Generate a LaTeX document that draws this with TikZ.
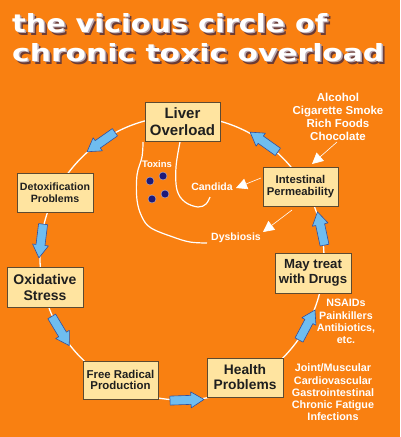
\documentclass[tikz,border=0pt]{standalone}
\usepackage{fontspec}
\setmainfont{Liberation Sans}
\newfontfamily\titlefont{DejaVu Sans}
\usetikzlibrary{arrows.meta}
\definecolor{bgorange}{HTML}{F98011}
\definecolor{boxfill}{HTML}{FFE4A0}
\definecolor{boxline}{HTML}{5C4A32}
\definecolor{arrfill}{HTML}{6FBDF0}
\definecolor{arrline}{HTML}{3050A0}
\definecolor{dotblue}{HTML}{1E1A78}
\definecolor{shadowdark}{HTML}{6B3B35}
\definecolor{shadowmid}{HTML}{B8A8B0}
\newcommand\shadowtitle[3]{%
  \rlap{\hspace{3pt}\raisebox{-3pt}{\textcolor{shadowdark}{\resizebox{#1}{#2}{#3}}}}%
  \rlap{\hspace{1.5pt}\raisebox{-1.5pt}{\textcolor{shadowmid}{\resizebox{#1}{#2}{#3}}}}%
  \textcolor{white}{\resizebox{#1}{#2}{#3}}}
\tikzset{
  stagebox/.style={draw=boxline, fill=boxfill, line width=0.8pt, text=black!88, align=center, inner sep=0pt, font=\bfseries},
  whitelabel/.style={text=white, align=center, inner sep=0pt, font=\bfseries},
  titletext/.style={anchor=base west, inner sep=0pt, font=\titlefont\bfseries},
  pointer/.style={draw=white, line width=0.6pt, -{Triangle[length=11pt,width=11pt]}},
  wline/.style={draw=white, line width=1.2pt},
  flow/.pic={\draw[fill=arrfill, draw=arrline, line width=0.6pt, line join=round] (-17,-4.5) -- (4,-4.5) -- (4,-8) -- (17,0) -- (4,8) -- (4,4.5) -- (-17,4.5) -- cycle;}
}
\begin{document}
\begin{tikzpicture}[x=1pt,y=-1pt]
\fill[bgorange] (0,0) rectangle (400,437);
\useasboundingbox (0,0) rectangle (400,437);

% title
\node[titletext] (t1) at (12,32) {\shadowtitle{315pt}{19pt}{the vicious circle of}};
\node[titletext] (t2) at (12,61) {\shadowtitle{372pt}{18pt}{chronic toxic overload}};

% main circle
\coordinate (cc) at (182,258);
\draw[white, line width=1.3pt] (cc) circle[radius=142pt];

% inner curves
\draw[wline] plot[smooth, tension=0.6] coordinates {(143,142) (142,157) (137,175) (137,200) (142,217) (151,228) (173,237) (190,242) (207,243)};
\draw[wline] plot[smooth, tension=0.6] coordinates {(180,142) (176,167) (177,190) (185,202) (198,207) (206,204) (210,197)};

% toxins dots
\foreach \p in {{(150,181)},{(163,176)},{(152,199)},{(165,194)}}
  \fill[dotblue, draw=white!70!dotblue, line width=0.4pt] \p circle[radius=4pt];

% boxes
\node[stagebox, minimum width=75pt, minimum height=39pt, font=\bfseries\fontsize{15}{17}\selectfont] (liver) at (182.5,121.5) {Liver\\Overload};
\node[stagebox, minimum width=75pt, minimum height=39pt, font=\bfseries\fontsize{11.3}{12.6}\selectfont] (intes) at (300.5,186.5) {Intestinal\\Permeability};
\node[stagebox, minimum width=76pt, minimum height=39pt, font=\bfseries\fontsize{10.6}{12.5}\selectfont] (detox) at (55,192.5) {Detoxification\\Problems};
\node[stagebox, minimum width=76pt, minimum height=40pt, font=\bfseries\fontsize{14}{16}\selectfont] (oxid) at (45,287) {Oxidative\\Stress};
\node[stagebox, minimum width=75pt, minimum height=38pt, font=\bfseries\fontsize{11.4}{11.8}\selectfont] (free) at (120.5,380) {Free Radical\\Production};
\node[stagebox, minimum width=76pt, minimum height=39pt, font=\bfseries\fontsize{13.8}{15}\selectfont] (health) at (245,377.5) {Health\\Problems};
\node[stagebox, minimum width=76pt, minimum height=40pt, font=\bfseries\fontsize{13.2}{14.4}\selectfont] (drugs) at (313,273) {May treat\\with Drugs};

% flow arrows on circle
\path (101,142) pic[rotate=215] {flow};
\path (41,241) pic[rotate=263] {flow};
\path (60.5,331) pic[rotate=301] {flow};
\path (187,400) pic[rotate=2] {flow};
\path (307,325) pic[rotate=62] {flow};
\path (321,228.5) pic[rotate=102] {flow};
\path (264,142) pic[rotate=144.6] {flow};

% white labels
\node[whitelabel, font=\bfseries\fontsize{11.5}{13}\selectfont] (causes) at (338,116.5) {Alcohol\\Cigarette Smoke\\Rich Foods\\Chocolate};
\node[whitelabel, font=\bfseries\fontsize{10.5}{12}\selectfont] (candida) at (212,187) {Candida};
\node[whitelabel, font=\bfseries\fontsize{10.5}{12}\selectfont] (dysb) at (236,238) {Dysbiosis};
\node[whitelabel, font=\bfseries\fontsize{9.5}{11}\selectfont] (toxins) at (157,164) {Toxins};
\node[whitelabel, font=\bfseries\fontsize{10.7}{12.3}\selectfont] (meds) at (346,321.5) {NSAIDs\\Painkillers\\Antibiotics,\\etc.};
\node[whitelabel, font=\bfseries\fontsize{10.8}{12.2}\selectfont] (symptoms) at (333,392.5) {Joint/Muscular\\Cardiovascular\\Gastrointestinal\\Chronic Fatigue\\Infections};

% pointer arrows
\coordinate (c1) at (337,142);
\coordinate (c1t) at (312,164);
\coordinate (c2) at (261,178);
\coordinate (c2t) at (236,188);
\coordinate (c3) at (292,210);
\coordinate (c3t) at (263,232);
\draw[pointer] (c1) -- (c1t);
\draw[pointer] (c2) -- (c2t);
\draw[pointer] (c3) -- (c3t);
\end{tikzpicture}
\end{document}
